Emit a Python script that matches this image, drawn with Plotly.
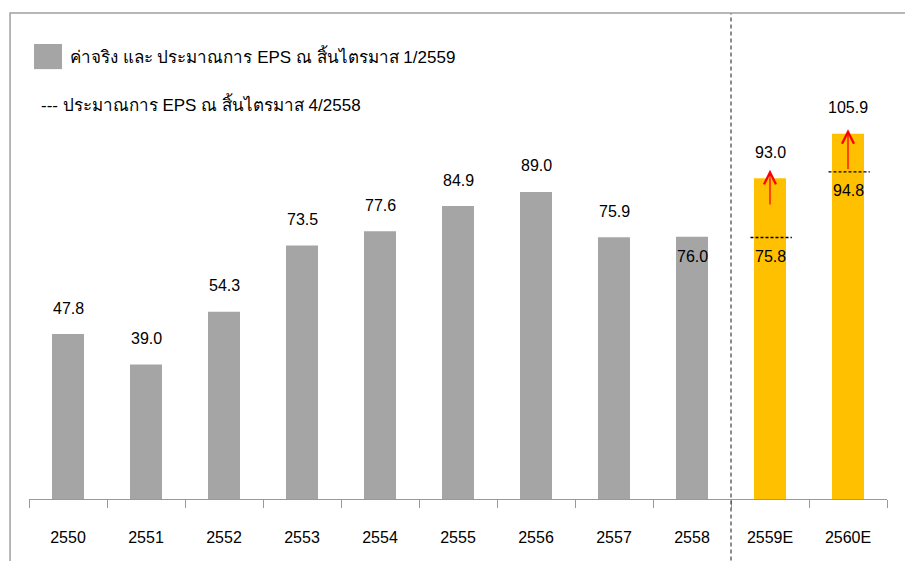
import plotly.graph_objects as go

categories = ["2550", "2551", "2552", "2553", "2554", "2555", "2556", "2557", "2558", "2559E", "2560E"]
eps_values = [47.8, 39.0, 54.3, 73.5, 77.6, 84.9, 89.0, 75.9, 76.0, 93.0, 105.9]
is_forecast = [False] * 9 + [True, True]
prev_categories = ["2559E", "2560E"]
prev_estimates = [75.8, 94.8]
arrow_tail = [84.9, 95.2]
arrow_head = [95.4, 107.2]

legend_actual = "ค่าจริง และ ประมาณการ EPS ณ สิ้นไตรมาส 1/2559"
legend_prev = "--- ประมาณการ EPS ณ สิ้นไตรมาส 4/2558"

GRAY = "#A5A5A5"
ORANGE = "#FFC000"
FONT = "Arial, Liberation Sans, sans-serif"

colors = [ORANGE if f else GRAY for f in is_forecast]

fig = go.Figure()
fig.add_trace(go.Bar(
    x=categories, y=eps_values, marker=dict(color=colors, line=dict(width=0)),
    width=0.41, showlegend=False, hoverinfo="x+y",
))

annotations = []
for i, (c, v) in enumerate(zip(categories, eps_values)):
    shift = -20 if c == "2558" else 26
    annotations.append(dict(x=i, y=v, xref="x", yref="y", text=f"{v:.1f}", showarrow=False,
                            yanchor="middle", yshift=shift,
                            font=dict(family=FONT, size=16, color="#000")))

shapes = []
for c, pv in zip(prev_categories, prev_estimates):
    i = categories.index(c)
    shapes.append(dict(type="line", xref="x", yref="y", x0=i - 0.25, x1=i + 0.28, y0=pv, y1=pv,
                       line=dict(color="#000", width=1.3, dash="3px,2px")))
    annotations.append(dict(x=i, y=pv, xref="x", yref="y", text=f"{pv:.1f}", showarrow=False,
                            yanchor="middle", yshift=-19,
                            font=dict(family=FONT, size=16, color="#000")))

for c, t, h in zip(prev_categories, arrow_tail, arrow_head):
    i = categories.index(c)
    annotations.append(dict(x=i, y=h, ax=i, ay=t, xref="x", yref="y", axref="x", ayref="y",
                            text="", showarrow=True, arrowhead=5, arrowsize=1.8, arrowwidth=1.3,
                            arrowcolor="#FF0000"))

# divider between actual and forecast
shapes.append(dict(type="line", xref="x", yref="paper", x0=8.5, x1=8.5, y0=-0.2, y1=1.006,
                   line=dict(color="#404040", width=1.2, dash="4px,3px")))
# outer frame
shapes.append(dict(type="rect", xref="paper", yref="paper", x0=-0.0221, x1=1.0268, y0=-0.3, y1=1.006,
                   line=dict(color="#A0A0A0", width=1.5), fillcolor="rgba(0,0,0,0)"))
# legend swatch
shapes.append(dict(type="rect", xref="paper", yref="paper", x0=0.0058, x1=0.0385, y0=0.890, y1=0.942,
                   line=dict(width=0), fillcolor=GRAY))
annotations.append(dict(x=0.0455, y=0.917, xref="paper", yref="paper", text=legend_actual,
                        showarrow=False, xanchor="left", yanchor="middle",
                        font=dict(family=FONT, size=17, color="#000")))
annotations.append(dict(x=0.012, y=0.818, xref="paper", yref="paper", text=legend_prev,
                        showarrow=False, xanchor="left", yanchor="middle",
                        font=dict(family=FONT, size=17, color="#000")))

fig.update_layout(
    width=905, height=553,
    margin=dict(l=21, r=26, t=8, b=62, autoexpand=False),
    paper_bgcolor="white", plot_bgcolor="white",
    shapes=shapes, annotations=annotations,
)
fig.update_xaxes(type="category", range=[-0.5, len(categories) - 0.5], automargin=False,
                 showline=True, linecolor="#999999", linewidth=1,
                 ticks="outside", tickson="boundaries", ticklen=8, tickcolor="#999999",
                 tickfont=dict(family=FONT, size=16, color="#000"), ticklabelstandoff=24,
                 tickangle=0, showgrid=False, zeroline=False)
fig.update_yaxes(range=[0, 140], visible=False, showgrid=False, zeroline=False, automargin=False)

fig.write_html("out.html")
